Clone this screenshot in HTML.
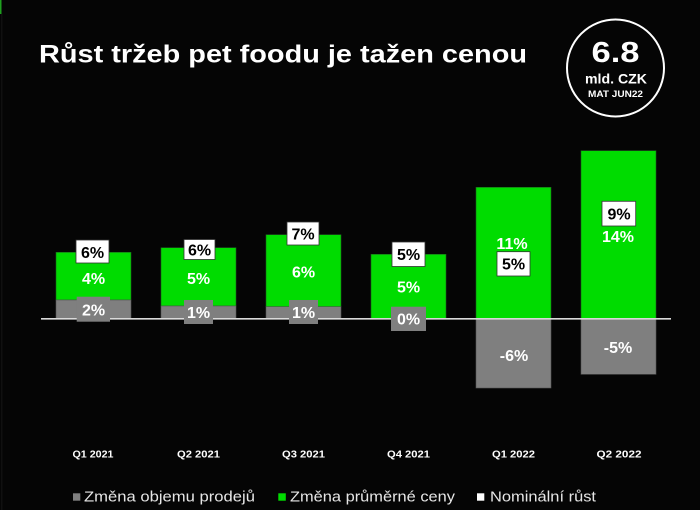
<!DOCTYPE html>
<html><head><meta charset="utf-8"><style>
html,body{margin:0;padding:0;background:#050505;}
svg{display:block;}
text{font-family:"Liberation Sans",sans-serif;}
</style></head><body>
<svg width="700" height="510" viewBox="0 0 700 510" xmlns="http://www.w3.org/2000/svg">
<rect x="0" y="0" width="700" height="510" fill="#050505"/>
<rect x="0" y="0" width="1.5" height="14" fill="#1fa01f"/>
<rect x="1.5" y="14" width="0.8" height="496" fill="#1a1a1a"/>

<!-- Title -->
<text x="39" y="62.5" font-size="25" font-weight="bold" fill="#ffffff" textLength="488" lengthAdjust="spacingAndGlyphs">Růst tržeb pet foodu je tažen cenou</text>

<!-- Circle -->
<circle cx="615.5" cy="68" r="48.5" fill="none" stroke="#ffffff" stroke-width="2"/>
<text x="615.5" y="62" font-size="28.5" font-weight="bold" fill="#ffffff" text-anchor="middle" textLength="48" lengthAdjust="spacingAndGlyphs">6.8</text>
<text x="616" y="83.5" font-size="14" font-weight="bold" fill="#ffffff" text-anchor="middle" textLength="62" lengthAdjust="spacingAndGlyphs">mld. CZK</text>
<text x="615.5" y="96.8" font-size="9.5" font-weight="bold" fill="#ffffff" text-anchor="middle" textLength="55" lengthAdjust="spacingAndGlyphs">MAT JUN22</text>

<!-- Bars -->
<g stroke="#1f5f1f" stroke-width="0.6">
<rect x="56" y="252.3" width="75" height="47.7" fill="#00dc00"/>
<rect x="161" y="247.7" width="75" height="58.3" fill="#00dc00"/>
<rect x="266" y="234.7" width="75" height="72" fill="#00dc00"/>
<rect x="371" y="254.3" width="75" height="64.7" fill="#00dc00"/>
<rect x="476" y="187.3" width="75" height="131.7" fill="#00dc00"/>
<rect x="581" y="150.7" width="75" height="168.3" fill="#00dc00"/>
</g>
<g stroke="#555" stroke-width="0.6">
<rect x="56" y="300" width="75" height="19" fill="#7f7f7f"/>
<rect x="161" y="306" width="75" height="13" fill="#7f7f7f"/>
<rect x="266" y="306.7" width="75" height="12.3" fill="#7f7f7f"/>
<rect x="476" y="319" width="75" height="69" fill="#7f7f7f"/>
<rect x="581" y="319" width="75" height="55.3" fill="#7f7f7f"/>
</g>

<!-- baseline -->
<line x1="41" y1="318.8" x2="671" y2="318.8" stroke="#d9d9d9" stroke-width="1.6"/>

<!-- gray label boxes -->
<rect x="76.7" y="296.7" width="33.3" height="25" fill="#7f7f7f"/>
<rect x="184" y="300" width="29" height="24" fill="#7f7f7f"/>
<rect x="289" y="300" width="29" height="24" fill="#7f7f7f"/>
<rect x="391" y="306.7" width="35" height="24.3" fill="#7f7f7f"/>

<!-- white label boxes -->
<g fill="#ffffff" stroke="#333" stroke-width="0.8">
<rect x="76" y="240" width="33" height="23"/>
<rect x="184" y="239.5" width="31" height="20"/>
<rect x="287" y="222" width="32" height="23"/>
<rect x="392" y="242" width="33" height="24.5"/>
<rect x="497" y="251.7" width="33" height="24.3"/>
<rect x="602" y="201.3" width="33.7" height="24.7"/>
</g>

<g font-size="16" font-weight="bold" text-anchor="middle">
<!-- nominal (black in white boxes) -->
<text x="92.5" y="258" fill="#000">6%</text>
<text x="199.5" y="255.5" fill="#000">6%</text>
<text x="303" y="239.5" fill="#000">7%</text>
<text x="408.5" y="260" fill="#000">5%</text>
<text x="513.5" y="269.5" fill="#000">5%</text>
<text x="619" y="219.5" fill="#000">9%</text>
<!-- price (white in green) -->
<text x="93.5" y="284" fill="#ffffff">4%</text>
<text x="198.5" y="284" fill="#ffffff">5%</text>
<text x="303.5" y="277.5" fill="#ffffff">6%</text>
<text x="408.5" y="292.5" fill="#ffffff">5%</text>
<text x="512" y="249" fill="#ffffff">11%</text>
<text x="618" y="242" fill="#ffffff">14%</text>
<!-- volume (white in gray) -->
<text x="93.5" y="315.5" fill="#ffffff">2%</text>
<text x="198.5" y="318" fill="#ffffff">1%</text>
<text x="303.5" y="318" fill="#ffffff">1%</text>
<text x="408.5" y="324.5" fill="#ffffff">0%</text>
<text x="514" y="361" fill="#ffffff">-6%</text>
<text x="618" y="353" fill="#ffffff">-5%</text>
</g>

<!-- x labels -->
<g font-size="10.5" font-weight="bold" fill="#ffffff" text-anchor="middle">
<text x="93" y="457.5" textLength="41" lengthAdjust="spacingAndGlyphs">Q1 2021</text>
<text x="198.5" y="457.5" textLength="43" lengthAdjust="spacingAndGlyphs">Q2 2021</text>
<text x="303.5" y="457.5" textLength="43" lengthAdjust="spacingAndGlyphs">Q3 2021</text>
<text x="408.5" y="457.5" textLength="43" lengthAdjust="spacingAndGlyphs">Q4 2021</text>
<text x="513.5" y="457.5" textLength="43" lengthAdjust="spacingAndGlyphs">Q1 2022</text>
<text x="619" y="457.5" textLength="45" lengthAdjust="spacingAndGlyphs">Q2 2022</text>
</g>

<!-- legend -->
<rect x="73" y="493.3" width="7.3" height="7.4" fill="#7f7f7f"/>
<text x="84" y="501.5" font-size="15" fill="#e6e6e6" textLength="171" lengthAdjust="spacingAndGlyphs">Změna objemu prodejů</text>
<rect x="278.3" y="493.3" width="7.5" height="7.4" fill="#00dc00"/>
<text x="290" y="501.5" font-size="15" fill="#e6e6e6" textLength="165" lengthAdjust="spacingAndGlyphs">Změna průměrné ceny</text>
<rect x="477" y="493.3" width="7.3" height="7.4" fill="#ffffff"/>
<text x="490" y="501.5" font-size="15" fill="#e6e6e6" textLength="106" lengthAdjust="spacingAndGlyphs">Nominální růst</text>
</svg>
</body></html>
